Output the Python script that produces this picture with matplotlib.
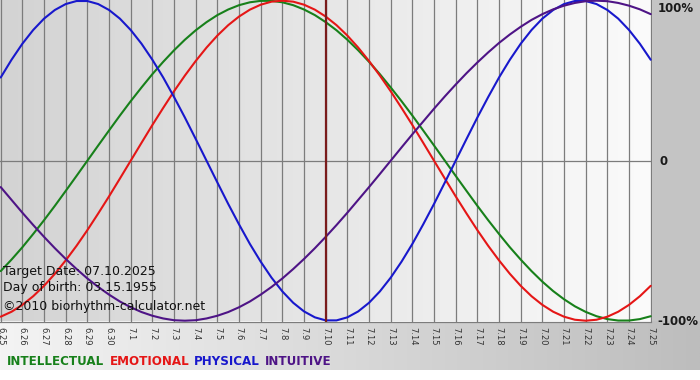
import numpy as np
import matplotlib
matplotlib.use("Agg")
import matplotlib.pyplot as plt
from matplotlib.colors import LinearSegmentedColormap
from matplotlib.patches import Rectangle

# ---- data ----
# tick labels, one per day
dates = ["6.25", "6.26", "6.27", "6.28", "6.29", "6.30", "7.1", "7.2", "7.3", "7.4",
         "7.5", "7.6", "7.7", "7.8", "7.9", "7.10", "7.11", "7.12", "7.13", "7.14",
         "7.15", "7.16", "7.17", "7.18", "7.19", "7.20", "7.21", "7.22", "7.23", "7.24", "7.25"]

# curve values (-1..1), read every half day from 6.25 to 7.25
intellectual = [-0.690, -0.618, -0.541, -0.458, -0.372, -0.282, -0.189, -0.095, 0.000, 0.095,
                0.189, 0.282, 0.372, 0.458, 0.541, 0.618, 0.690, 0.756, 0.815, 0.866,
                0.910, 0.945, 0.972, 0.990, 0.999, 0.999, 0.990, 0.972, 0.945, 0.910,
                0.866, 0.815, 0.756, 0.690, 0.618, 0.541, 0.458, 0.372, 0.282, 0.189,
                0.095, 0.000, -0.095, -0.189, -0.282, -0.372, -0.458, -0.541, -0.618, -0.690,
                -0.756, -0.815, -0.866, -0.910, -0.945, -0.972, -0.990, -0.999, -0.999, -0.990,
                -0.972]

emotional = [-0.975, -0.944, -0.901, -0.847, -0.782, -0.707, -0.623, -0.532, -0.434, -0.330,
             -0.223, -0.112, 0.000, 0.112, 0.223, 0.330, 0.434, 0.532, 0.623, 0.707,
             0.782, 0.847, 0.901, 0.944, 0.975, 0.994, 1.000, 0.994, 0.975, 0.944,
             0.901, 0.847, 0.782, 0.707, 0.623, 0.532, 0.434, 0.330, 0.223, 0.112,
             0.000, -0.112, -0.223, -0.330, -0.434, -0.532, -0.623, -0.707, -0.782, -0.847,
             -0.901, -0.944, -0.975, -0.994, -1.000, -0.994, -0.975, -0.944, -0.901, -0.847,
             -0.782]

physical = [0.520, 0.631, 0.731, 0.817, 0.888, 0.942, 0.979, 0.998, 0.998, 0.979,
            0.942, 0.888, 0.817, 0.731, 0.631, 0.520, 0.398, 0.270, 0.136, 0.000,
            -0.136, -0.270, -0.398, -0.520, -0.631, -0.731, -0.817, -0.888, -0.942, -0.979,
            -0.998, -0.998, -0.979, -0.942, -0.888, -0.817, -0.731, -0.631, -0.520, -0.398,
            -0.270, -0.136, 0.000, 0.136, 0.270, 0.398, 0.520, 0.631, 0.731, 0.817,
            0.888, 0.942, 0.979, 0.998, 0.998, 0.979, 0.942, 0.888, 0.817, 0.731,
            0.631]

intuitive = [-0.165, -0.245, -0.325, -0.402, -0.476, -0.547, -0.614, -0.677, -0.736, -0.789,
             -0.837, -0.880, -0.916, -0.946, -0.969, -0.986, -0.997, -1.000, -0.997, -0.986,
             -0.969, -0.946, -0.916, -0.880, -0.837, -0.789, -0.736, -0.677, -0.614, -0.547,
             -0.476, -0.402, -0.325, -0.245, -0.165, -0.083, 0.000, 0.083, 0.165, 0.245,
             0.325, 0.402, 0.476, 0.547, 0.614, 0.677, 0.736, 0.789, 0.837, 0.880,
             0.916, 0.946, 0.969, 0.986, 0.997, 1.000, 0.997, 0.986, 0.969, 0.946,
             0.916]

samples_per_day = 2
target_date = "7.10"
target_text = "Target Date: 07.10.2025"
birth_text = "Day of birth: 03.15.1955"
copyright_text = "\u00a92010 biorhythm-calculator.net"
series_names = ["INTELLECTUAL", "EMOTIONAL", "PHYSICAL", "INTUITIVE"]
series_colors = ["#17801a", "#e51616", "#1818cc", "#4e1486"]
right_labels = ["100%", "0", "-100%"]
right_values = [1, 0, -1]

# ---- figure ----
W, H = 700, 380
fig = plt.figure(figsize=(W / 100, H / 100), dpi=100, facecolor="white")

# background pieces
fig.patches.append(Rectangle((651.5 / W, 1 - 322 / H), 1, 1, transform=fig.transFigure,
                             facecolor="#c4c4c4", edgecolor="none", zorder=-10))
bg = fig.add_axes([0, 1 - 370 / H, 1, (370 - 321) / H], zorder=-5)
grad_b = LinearSegmentedColormap.from_list("gb", ["#f4f4f4", "#bdbdbd"])
bg.imshow(np.linspace(0, 1, 256)[None, :], aspect="auto", cmap=grad_b,
          extent=[0, 1, 0, 1])
bg.set_axis_off()

ax = fig.add_axes([0, 1 - 321.5 / H, 651.5 / W, 321.5 / H])
day_x = np.arange(len(dates))
px_per_day = 21.667
ax.set_xlim(-0.7 / px_per_day, (len(dates) - 1) + 0.8 / px_per_day)
ax.set_ylim(-1 - 0.8 / 160, 1 + 0.7 / 160)

grad_p = LinearSegmentedColormap.from_list("gp", ["#d3d3d3", "#fbfbfb"])
ax.imshow(np.linspace(0, 1, 256)[None, :], aspect="auto", cmap=grad_p,
          extent=[ax.get_xlim()[0], ax.get_xlim()[1], ax.get_ylim()[0], ax.get_ylim()[1]],
          zorder=0)

for xi in day_x:
    ax.axvline(xi, color="#7c7c7c", lw=0.9, zorder=1)
ax.axhline(0, color="#7c7c7c", lw=0.9, zorder=1)

for vals, col in zip([intellectual, emotional, physical, intuitive], series_colors):
    sx = np.arange(len(vals)) / samples_per_day
    ax.plot(sx, vals, color=col, lw=1.5, zorder=3, solid_capstyle="round")

ax.axvline(dates.index(target_date), color="#7a1c1c", lw=1.6, zorder=4)

for s in ["top", "left", "right"]:
    ax.spines[s].set_visible(False)
ax.spines["bottom"].set_color("#7c7c7c")
ax.spines["bottom"].set_linewidth(0.9)
ax.set_yticks([])
ax.set_xticks(day_x)
ax.set_xticklabels(dates, rotation=-90, fontsize=6, color="#333333")
ax.tick_params(axis="x", length=0, pad=4)

# left info texts
for txt, yp in zip([target_text, birth_text, copyright_text], [271.7, 287.3, 306.7]):
    fig.text(2.7 / W, 1 - yp / H, txt, fontsize=9, color="#111111",
             va="center", ha="left", zorder=10)

# right percentage labels
for lab, yv in zip(right_labels, right_values):
    disp_y = ax.transData.transform((0, yv))[1]
    if yv == 1:
        disp_y -= 7
    xp = 657.5 if lab != "0" else 659.5
    fig.text(xp / W, (disp_y - 1) / H, lab, fontsize=8.5, fontweight="bold",
             color="#1a1a1a", va="center", ha="left")

# legend words
renderer = fig.canvas.get_renderer()
xpos = 7.3
for name, col in zip(series_names, series_colors):
    t = fig.text(xpos / W, 1 - 361.5 / H, name, fontsize=8.6, fontweight="bold",
                 color=col, va="center", ha="left")
    bb = t.get_window_extent(renderer)
    xpos += bb.width + 5

fig.savefig("out.png", dpi=100, facecolor=fig.get_facecolor())
